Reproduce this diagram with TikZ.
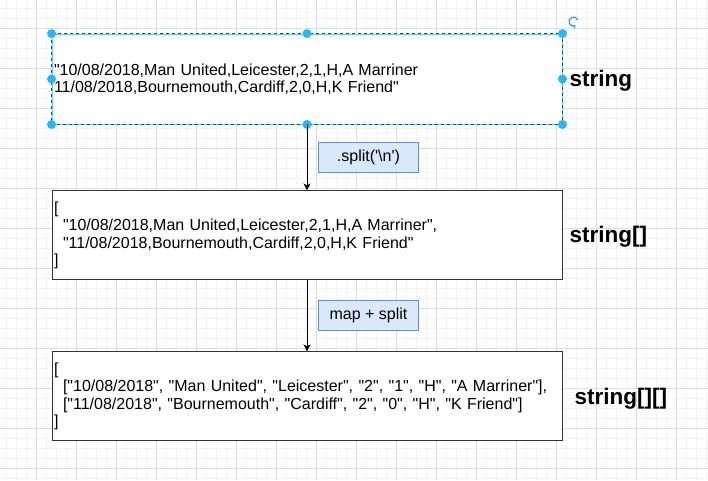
\documentclass[tikz,border=0pt]{standalone}
\usepackage{fontspec}
\setmainfont{Liberation Sans}[Ligatures=TeXOff]
\usepackage{xcolor}
\usepackage{tikz}
\usetikzlibrary{arrows.meta, positioning}
\definecolor{handleblue}{HTML}{29B6F2}
\definecolor{opfill}{HTML}{DAE8FC}
\definecolor{opline}{HTML}{6C8EBF}
\definecolor{gridminor}{HTML}{F3F3F3}
\definecolor{gridmajor}{HTML}{DEDEDE}

\begin{document}
\begin{tikzpicture}[x=1pt, y=-1pt,
    databox/.style={draw=black!80, fill=white, line width=0.9pt, minimum height=89pt,
        text width=506pt, inner sep=2pt, align=left, font=\fontsize{16}{17.5}\selectfont},
    opbox/.style={draw=opline, fill=opfill, line width=0.9pt, minimum width=100pt,
        minimum height=30pt, font=\fontsize{16}{18}\selectfont},
    typelabel/.style={font=\bfseries\fontsize{22.5}{24}\selectfont, inner sep=2pt},
    flow/.style={-{Stealth[length=7pt, width=7pt, inset=2pt]}, line width=0.8pt},
    handle/.style={circle, fill=handleblue, inner sep=0pt, minimum size=9pt}]
    \useasboundingbox[fill=white] (0,0) rectangle (708,480);

    % grid
    \foreach \gx in {6.5,16.5,...,706.5}
        \draw[gridminor, line width=0.6pt] (\gx,0) -- (\gx,480);
    \foreach \gy in {8.3,18.3,...,478.3}
        \draw[gridminor, line width=0.6pt] (0,\gy) -- (708,\gy);
    \foreach \gx in {36.5,76.5,...,676.5}
        \draw[gridmajor, line width=0.8pt] (\gx,0) -- (\gx,480);
    \foreach \gy in {28.3,68.3,...,468.3}
        \draw[gridmajor, line width=0.8pt] (0,\gy) -- (708,\gy);

    % source text (selected)
    \node[databox, draw=handleblue!70, minimum height=90pt] (src) at (307,79)
        {"10/08/2018,Man United,Leicester,2,1,H,A Marriner\\
         11/08/2018,Bournemouth,Cardiff,2,0,H,K Friend"};
    \draw[black!75, line width=0.8pt, dash pattern=on 3pt off 3pt]
        (src.north west) rectangle (src.south east);
    \foreach \a/\n in {north west/nw, north/n, north east/ne, east/e,
                       south east/se, south/s, south west/sw, west/w}
        \node[handle] (h\n) at (src.\a) {};
    \coordinate (rot) at (573.5,21.5);
    \draw[handleblue, line width=1.5pt, -{Stealth[length=3.5pt, width=5pt]}]
        ([shift={(-20:4.5)}]rot) arc[start angle=-20, end angle=-300, radius=4.5];

    % arrays
    \node[databox, below=66pt of src] (rows)
        {{[}\\
         \hspace*{9pt}"10/08/2018,Man United,Leicester,2,1,H,A Marriner",\\
         \hspace*{9pt}"11/08/2018,Bournemouth,Cardiff,2,0,H,K Friend"\\
         ]};
    \node[databox, below=71pt of rows] (cells)
        {{[}\\
         \hspace*{9pt}{["10/08/2018", "Man United", "Leicester", "2", "1", "H", "A Marriner"],}\\
         \hspace*{9pt}{["11/08/2018", "Bournemouth", "Cardiff", "2", "0", "H", "K Friend"]}\\
         ]};

    % types
    \node[typelabel, right=5pt of src, yshift=-2pt] (srctype) {string};
    \node[typelabel, right=5pt of rows, yshift=-1.5pt] (rowstype) {string[]};
    \node[typelabel, right=10pt of cells, yshift=-2.5pt] (cellstype) {string[][]};

    % operations
    \draw[flow] (src.south) -- node[opbox, anchor=west, xshift=11pt] (splitop)
        {.split('\textbackslash n')} (rows.north);
    \draw[flow] (rows.south) -- node[opbox, anchor=west, xshift=11pt] (mapop)
        {map + split} (cells.north);
\end{tikzpicture}
\end{document}
